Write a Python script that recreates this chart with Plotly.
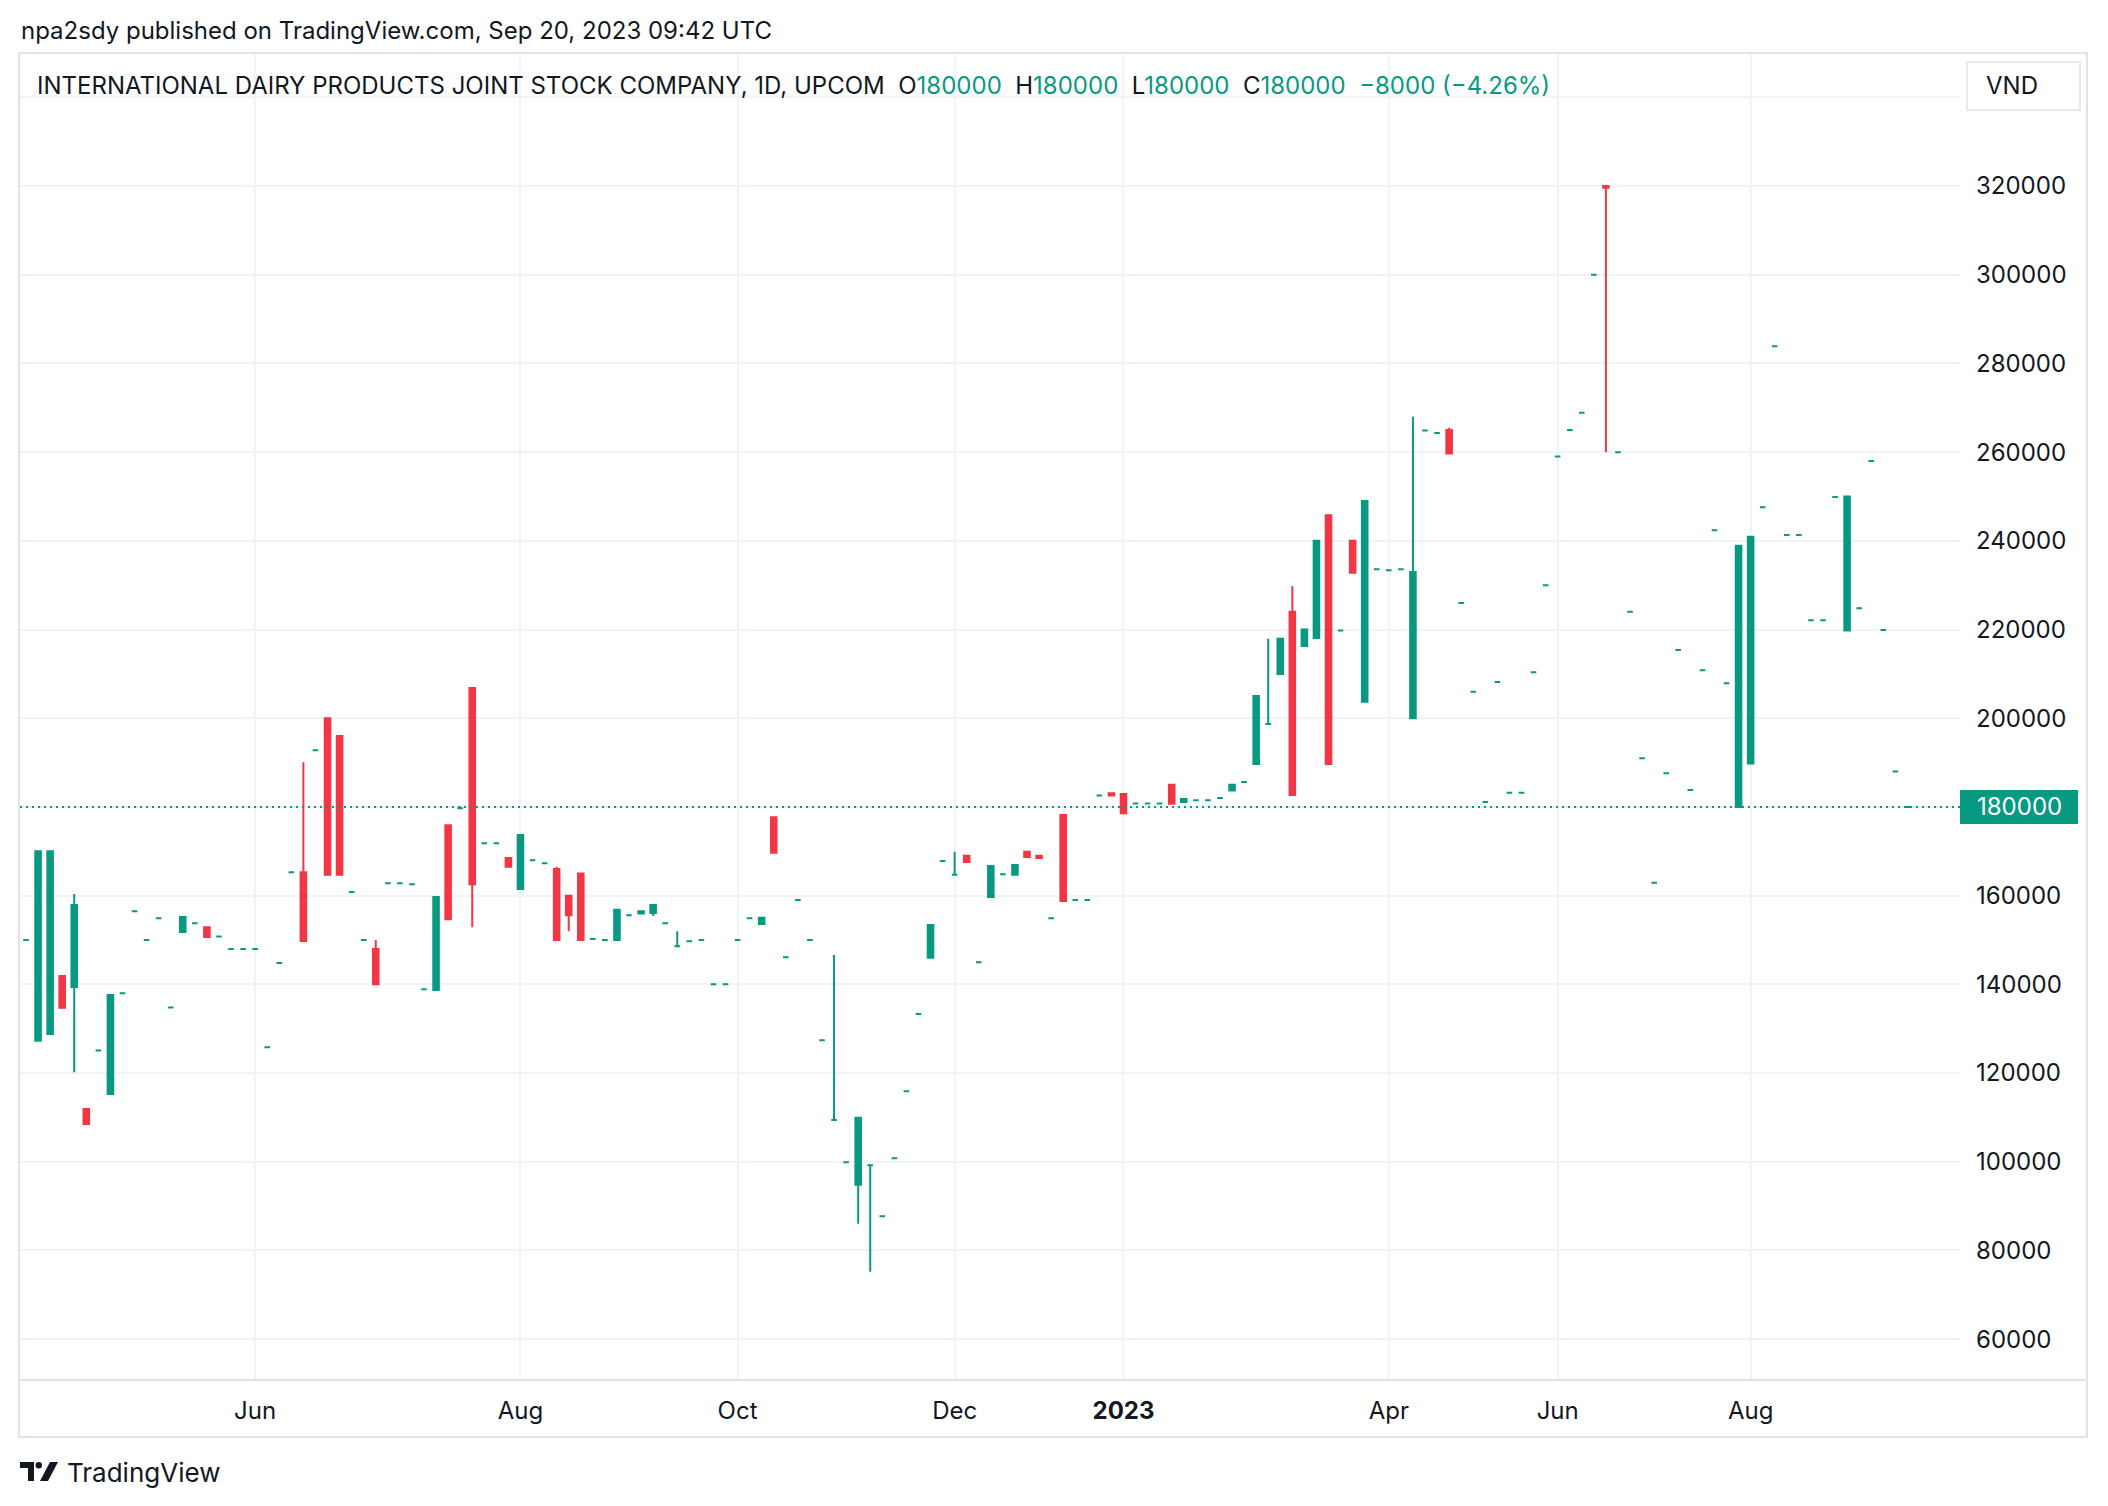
import plotly.graph_objects as go

W, H = 2108, 1506
PL, PR, PT, PB = 20, 1960, 54, 1379

GREEN = "#089981"
RED = "#F23645"
TEXT = "#131722"
GRID = "#f0f3fa"
BORDER = "#e0e3eb"

# ---- daily OHLC (one entry per traded bar, VND) ----
opens = [
    150000, 127300, 128800, 141900, 139400, 111900, 125100, 115300, 138000, 156500,
    150000, 154900, 134800, 151800, 153800, 152900, 150800, 148000, 148000, 148000,
    125800, 144800, 165300, 165300, 192800, 200000, 196000, 160800, 150000, 148000,
    162800, 162800, 162600, 138900, 138700, 175900, 179700, 206800, 171800, 171800,
    168500, 161500, 168000, 167300, 166000, 160000, 165000, 150200, 150000, 150000,
    155600, 156000, 156100, 153800, 148600, 149700, 150000, 140000, 140000, 150000,
    154900, 153600, 177700, 146100, 159000, 150000, 127400, 109400, 99900, 94800,
    99200, 87700, 100800, 115900, 133300, 146000, 167800, 164700, 169000, 145000,
    159700, 164800, 164700, 169900, 169000, 154900, 178200, 159000, 159000, 182600,
    183100, 182900, 180800, 180800, 180800, 185000, 181100, 181500, 181500, 182000,
    183700, 185600, 189700, 198700, 210000, 224000, 216300, 218100, 245800, 219800,
    240000, 203700, 233600, 233400, 233600, 200000, 264900, 264300, 265000, 226000,
    206000, 181100, 208200, 183200, 183200, 210400, 230000, 259000, 265000, 268900,
    300000, 320000, 260000, 224000, 191000, 162900, 187600, 215400, 183800, 210800,
    242400, 207900, 180000, 189800, 247600, 283900, 241300, 241300, 222100, 222100,
    249900, 219800, 224800, 258000, 219900, 188000, 180000,
]
highs = [
    150000, 170000, 170000, 141900, 160400, 111900, 125100, 137600, 138000, 156500,
    150000, 154900, 134800, 155200, 153800, 152900, 150800, 148000, 148000, 148000,
    125800, 144800, 165300, 190100, 192800, 200000, 196000, 160800, 150000, 150000,
    162800, 162800, 162600, 138900, 159700, 175900, 180100, 206800, 171800, 171800,
    168500, 173700, 168000, 167300, 166500, 160000, 165000, 150200, 150000, 156800,
    155600, 156500, 157900, 153800, 152000, 149700, 150000, 140000, 140000, 150000,
    154900, 155000, 177700, 146100, 159000, 150000, 127400, 146600, 99900, 109900,
    99200, 87700, 100800, 115900, 133300, 153400, 167800, 169900, 169000, 145000,
    166700, 164800, 166900, 169900, 169000, 154900, 178200, 159000, 159000, 182600,
    183100, 182900, 180800, 180800, 180800, 185000, 181800, 181500, 181500, 182000,
    185000, 185600, 205000, 217900, 217900, 229800, 220000, 240000, 245800, 219800,
    240000, 249000, 233600, 233400, 233600, 268000, 264900, 264300, 265500, 226000,
    206000, 181100, 208200, 183200, 183200, 210400, 230000, 259000, 265000, 268900,
    300000, 320000, 260000, 224000, 191000, 162900, 187600, 215400, 183800, 210800,
    242400, 207900, 238900, 240900, 247600, 283900, 241300, 241300, 222100, 222100,
    249900, 250000, 224800, 258000, 219900, 188000, 180000,
]
lows = [
    150000, 127300, 128800, 134700, 120200, 108500, 125100, 115300, 138000, 156500,
    150000, 154900, 134800, 151800, 153800, 150700, 150800, 148000, 148000, 148000,
    125800, 144800, 165300, 149800, 192800, 164700, 164700, 160800, 150000, 140000,
    162800, 162800, 162600, 138900, 138700, 154700, 179700, 152900, 171800, 171800,
    166500, 161500, 168000, 167300, 150000, 152000, 150000, 150200, 150000, 150000,
    155600, 156000, 155400, 153800, 148600, 149700, 150000, 140000, 140000, 150000,
    154900, 153600, 169700, 146100, 159000, 150000, 127400, 109400, 99900, 86000,
    75200, 87700, 100800, 115900, 133300, 146000, 167800, 164700, 167400, 145000,
    159700, 164800, 164700, 168500, 168500, 154900, 158800, 159000, 159000, 182600,
    182600, 178600, 180800, 180800, 180800, 180700, 181100, 181500, 181500, 182000,
    183700, 185600, 189700, 198700, 210000, 182700, 216300, 218100, 189700, 219800,
    232800, 203700, 233600, 233400, 233600, 200000, 264900, 264300, 259700, 226000,
    206000, 181100, 208200, 183200, 183200, 210400, 230000, 259000, 265000, 268900,
    300000, 260000, 260000, 224000, 191000, 162900, 187600, 215400, 183800, 210800,
    242400, 207900, 180000, 189800, 247600, 283900, 241300, 241300, 222100, 222100,
    249900, 219800, 224800, 258000, 219900, 188000, 180000,
]
closes = [
    150000, 170000, 170000, 134700, 157900, 108500, 125100, 137600, 138000, 156500,
    150000, 154900, 134800, 155200, 153800, 150700, 150800, 148000, 148000, 148000,
    125800, 144800, 165300, 149800, 192800, 164700, 164700, 160800, 150000, 140000,
    162800, 162800, 162600, 138900, 159700, 154700, 179700, 162600, 171800, 171800,
    166500, 173700, 168000, 167300, 150000, 155600, 150000, 150200, 150000, 156800,
    155600, 156500, 157900, 153800, 148600, 149700, 150000, 140000, 140000, 150000,
    154900, 155000, 169700, 146100, 159000, 150000, 127400, 109400, 99900, 109900,
    99200, 87700, 100800, 115900, 133300, 153400, 167800, 164700, 167600, 145000,
    166700, 164800, 166900, 168700, 168500, 154900, 158800, 159000, 159000, 182600,
    182600, 178600, 180800, 180800, 180800, 180700, 181800, 181500, 181500, 182000,
    185000, 185600, 205000, 198700, 217900, 182700, 220000, 240000, 189700, 219800,
    232800, 249000, 233600, 233400, 233600, 233000, 264900, 264300, 259700, 226000,
    206000, 181100, 208200, 183200, 183200, 210400, 230000, 259000, 265000, 268900,
    300000, 319600, 260000, 224000, 191000, 162900, 187600, 215400, 183800, 210800,
    242400, 207900, 238900, 240900, 247600, 283900, 241300, 241300, 222100, 222100,
    249900, 250000, 224800, 258000, 219900, 188000, 180000,
]

# time-axis labels (placed at bar index)
tick_bars = [19, 41, 59, 77, 91, 113, 127, 143]
tick_labels = ["Jun", "Aug", "Oct", "Dec", "<b>2023</b>", "Apr", "Jun", "Aug"]

price_ticks = list(range(60000, 340001, 20000))

symbol = "INTERNATIONAL DAIRY PRODUCTS JOINT STOCK COMPANY, 1D, UPCOM"
header = "npa2sdy published on TradingView.com, Sep 20, 2023 09:42 UTC"

# ---------------------------------------------------------------
bars = list(range(len(opens)))
up = [i for i in bars if closes[i] >= opens[i]]
dn = [i for i in bars if closes[i] < opens[i]]


def candles(idx, color):
    return go.Candlestick(
        x=[bars[i] for i in idx],
        open=[opens[i] for i in idx],
        high=[highs[i] for i in idx],
        low=[lows[i] for i in idx],
        close=[closes[i] for i in idx],
        increasing=dict(line=dict(color=color, width=2), fillcolor=color),
        decreasing=dict(line=dict(color=color, width=2), fillcolor=color),
        whiskerwidth=0,
        hoverinfo="skip",
        showlegend=False,
    )


fig = go.Figure([candles(up, GREEN), candles(dn, RED)])

XR = [-0.4975, 160.36]
YR = [51016, 349776]


def pxx(px):
    return (px - PL) / (PR - PL)


def pxy(py):
    return (PB - py) / (PB - PT)


last = closes[-1]
chg = closes[-1] - closes[-2]
pct = chg / closes[-2] * 100
NB = "\u00a0"
g = lambda t: f"<span style='color:{GREEN}'>{t}</span>"
legend_txt = (
    f"{symbol}{NB}{NB}O{g(opens[-1])}{NB}{NB}H{g(highs[-1])}{NB}{NB}L{g(lows[-1])}"
    f"{NB}{NB}C{g(closes[-1])}{NB}{NB}{g(f'−{abs(chg)} (−{abs(pct):.2f}%)')}"
)

FONT = "Inter, Roboto, sans-serif"
FS = 24

ticktext = []
for v in price_ticks:
    if v == 340000 or v == last:
        ticktext.append("")
    else:
        ticktext.append(str(v))

shapes = [
    # outer frame
    dict(type="rect", xref="paper", yref="paper", x0=pxx(19), x1=pxx(2087), y0=pxy(53), y1=pxy(1437),
         line=dict(color=BORDER, width=2), layer="below"),
    # time-axis separator
    dict(type="line", xref="paper", yref="paper", x0=pxx(19), x1=pxx(2087), y0=pxy(1380), y1=pxy(1380),
         line=dict(color=BORDER, width=2)),
    # last price dotted line
    dict(type="line", xref="paper", yref="y", x0=0, x1=1, y0=last, y1=last,
         line=dict(color=GREEN, width=2, dash="2px,4px")),
    # last price label box
    dict(type="rect", xref="paper", yref="y", ysizemode="pixel", yanchor=last, y0=-17, y1=17,
         x0=1, x1=pxx(2078), fillcolor=GREEN, line=dict(width=0), layer="above"),
    # VND currency button
    dict(type="rect", xref="paper", yref="paper", x0=pxx(1967), x1=pxx(2080), y0=pxy(62), y1=pxy(110),
         line=dict(color=BORDER, width=1.5), fillcolor="white"),
    # TradingView logo
    dict(type="path", xref="paper", yref="paper",
         path=(f"M {pxx(20)} {pxy(1462)} L {pxx(34)} {pxy(1462)} L {pxx(34)} {pxy(1481)} "
               f"L {pxx(28)} {pxy(1481)} L {pxx(28)} {pxy(1468)} L {pxx(20)} {pxy(1468)} Z"),
         fillcolor=TEXT, line=dict(width=0)),
    dict(type="circle", xref="paper", yref="paper", x0=pxx(35.5), x1=pxx(42), y0=pxy(1462), y1=pxy(1468.5),
         fillcolor=TEXT, line=dict(width=0)),
    dict(type="path", xref="paper", yref="paper",
         path=(f"M {pxx(50)} {pxy(1462)} L {pxx(58)} {pxy(1462)} L {pxx(48)} {pxy(1481)} "
               f"L {pxx(40)} {pxy(1481)} Z"),
         fillcolor=TEXT, line=dict(width=0)),
]

annotations = [
    dict(text=header, xref="paper", yref="paper", x=pxx(19), y=pxy(31), xanchor="left", yanchor="middle",
         showarrow=False, font=dict(family=FONT, size=FS, color=TEXT)),
    dict(text=legend_txt, xref="paper", yref="paper", x=pxx(35), y=pxy(86), xanchor="left", yanchor="middle",
         showarrow=False, font=dict(family=FONT, size=FS, color=TEXT)),
    dict(text="VND", xref="paper", yref="paper", x=pxx(2012), y=pxy(86), xanchor="center", yanchor="middle",
         showarrow=False, font=dict(family=FONT, size=FS, color=TEXT)),
    dict(text=str(last), xref="paper", yref="y", x=pxx(1975), y=last, xanchor="left", yanchor="middle",
         showarrow=False, font=dict(family=FONT, size=FS, color="white")),
    dict(text="TradingView", xref="paper", yref="paper", x=pxx(65), y=pxy(1472), xanchor="left",
         yanchor="middle", showarrow=False, font=dict(family=FONT, size=26, color=TEXT)),
]

fig.update_layout(
    width=W, height=H,
    margin=dict(l=PL, r=W - PR, t=PT, b=H - PB, pad=0),
    paper_bgcolor="white", plot_bgcolor="white",
    font=dict(family=FONT, size=FS, color=TEXT),
    boxgap=0.34,
    showlegend=False,
    hovermode=False,
    xaxis=dict(range=XR, rangeslider=dict(visible=False), tickmode="array", tickvals=tick_bars,
               ticktext=tick_labels, showgrid=True, gridcolor=GRID, gridwidth=2, zeroline=False,
               showline=False, ticks="", ticklabelstandoff=15, tickfont=dict(family=FONT, size=FS, color=TEXT)),
    yaxis=dict(range=YR, side="right", tickmode="array", tickvals=price_ticks, ticktext=ticktext,
               showgrid=True, gridcolor=GRID, gridwidth=2, zeroline=False, showline=False, ticks="",
               ticklabelstandoff=15, tickfont=dict(family=FONT, size=FS, color=TEXT)),
    shapes=shapes,
    annotations=annotations,
)

fig.write_html("out.html", config={"displayModeBar": False})
